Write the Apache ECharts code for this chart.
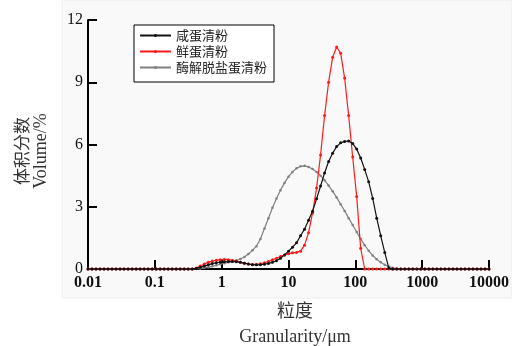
<!DOCTYPE html>
<html><head><meta charset="utf-8">
<script src="https://cdn.jsdelivr.net/npm/echarts@6/dist/echarts.min.js"></script>
<style>html,body{margin:0;padding:0;background:#fff}#c{width:512px;height:346px}</style>
</head><body><div id="c"></div><script>
// particle size classes (µm), log-spaced
const sizeClasses = [
0.01,0.01148,0.01318,0.01514,0.01738,0.01995,0.02291,0.0263,0.0302,0.03467,
0.03981,0.04571,0.05248,0.06026,0.06918,0.07943,0.0912,0.1047,0.1202,0.138,
0.1585,0.182,0.2089,0.2399,0.2754,0.3162,0.3631,0.4169,0.4786,0.5495,
0.631,0.7244,0.8318,0.955,1.096,1.259,1.445,1.66,1.905,2.188,
2.512,2.884,3.311,3.802,4.365,5.012,5.754,6.607,7.586,8.71,
10,11.48,13.18,15.14,17.38,19.95,22.91,26.3,30.2,34.67,
39.81,45.71,52.48,60.26,69.18,79.43,91.2,104.7,120.2,138,
158.5,182,208.9,239.9,275.4,316.2,363.1,416.9,478.6,549.5,
631,724.4,831.8,955,1096,1259,1445,1660,1905,2188,
2512,2884,3311,3802,4365,5012,5754,6607,7586,8710,
10000];
const seriesNames = ['咸蛋清粉','鲜蛋清粉','酶解脱盐蛋清粉'];
const saltedEgg = [
0,0,0,0,0,0,0,0,0,0,
0,0,0,0,0,0,0,0,0,0,
0,0,0,0,0,0,0,0.03,0.08,0.14,
0.2,0.26,0.3,0.33,0.35,0.36,0.36,0.35,0.32,0.28,
0.24,0.21,0.2,0.21,0.23,0.27,0.32,0.4,0.52,0.68,
0.86,1.05,1.26,1.6,1.92,2.35,2.78,3.38,4.0,4.63,
5.18,5.58,5.9,6.08,6.15,6.17,6.05,5.78,5.35,4.8,
4.2,3.4,2.45,1.6,0.8,0.05,0,0,0,0,
0,0,0,0,0,0,0,0,0,0,
0,0,0,0,0,0,0,0,0,0,
0];
const freshEgg = [
0,0,0,0,0,0,0,0,0,0,
0,0,0,0,0,0,0,0,0,0,
0,0,0,0,0,0,0,0.05,0.14,0.24,
0.32,0.38,0.42,0.45,0.46,0.45,0.42,0.38,0.33,0.28,
0.24,0.22,0.22,0.25,0.3,0.36,0.44,0.52,0.6,0.68,
0.74,0.78,0.8,0.86,1.15,1.75,2.7,3.9,5.5,7.4,
9.0,10.2,10.7,10.4,9.2,7.4,5.4,3.5,1.0,0,
0,0,0,0,0,0,0,0,0,0,
0,0,0,0,0,0,0,0,0,0,
0,0,0,0,0,0,0,0,0,0,
0];
const enzymeEgg = [
0,0,0,0,0,0,0,0,0,0,
0,0,0,0,0,0,0,0,0,0,
0,0,0,0,0,0,0,0,0.02,0.05,
0.09,0.13,0.18,0.23,0.28,0.32,0.36,0.41,0.48,0.58,
0.72,0.9,1.1,1.45,1.95,2.45,2.95,3.4,3.8,4.15,
4.45,4.68,4.85,4.95,4.97,4.92,4.82,4.68,4.5,4.28,
4.02,3.75,3.45,3.12,2.8,2.45,2.12,1.78,1.45,1.15,
0.88,0.65,0.47,0.32,0.2,0.12,0.06,0.02,0,0,
0,0,0,0,0,0,0,0,0,0,
0,0,0,0,0,0,0,0,0,0,
0];
const xTickLabels = ['0.01','0.1','1','10','100','1000','10000'];
const yTicks = [0,3,6,9,12];

const pairs = arr => sizeClasses.map((x,i)=>[x,arr[i]]);
const chart = echarts.init(document.getElementById('c'));
const mk = (name, data, color, sym, z) => ({
  name, type:'line', data: pairs(data), symbol:'circle', symbolSize: sym,
  lineStyle:{color, width:1.2}, itemStyle:{color}, z, animation:false
});
chart.setOption({
  backgroundColor:'#fff',
  animation:false,
  graphic:[
    {type:'rect', z:-10, silent:true, shape:{x:62,y:0,width:450,height:298}, style:{fill:'#f9f9f9', stroke:'#ececec', lineWidth:1}},
    {type:'text', x:295, y:310, style:{text:'粒度', font:"18px 'Noto Sans CJK SC'", fill:'#333', textAlign:'center', textVerticalAlign:'middle'}},
    {type:'text', x:295, y:337, style:{text:'Granularity/μm', font:"18px 'Liberation Serif'", fill:'#333', textAlign:'center', textVerticalAlign:'middle'}},
    {type:'text', x:22, y:151, rotation:Math.PI/2, style:{text:'体积分数', font:"17px 'Noto Sans CJK SC'", fill:'#333', textAlign:'center', textVerticalAlign:'middle'}},
    {type:'text', x:41, y:151, rotation:Math.PI/2, style:{text:'Volume/%', font:"18px 'Liberation Serif'", fill:'#333', textAlign:'center', textVerticalAlign:'middle'}}
  ],
  legend:{
    left:134, top:25, orient:'vertical', borderColor:'#000', borderWidth:1,
    padding:[4,7,8,5], itemWidth:31, itemHeight:4, itemGap:3, backgroundColor:'#fff',
    textStyle:{fontFamily:'Noto Sans CJK SC', fontSize:13, color:'#222', lineHeight:13},
    data: seriesNames
  },
  grid:{left:88, top:20, width:402, height:249, containLabel:false},
  xAxis:{
    type:'log', logBase:10, min:0.01, max:10000, splitNumber:6,
    axisLine:{lineStyle:{color:'#000', width:2}},
    axisTick:{inside:true, length:9, lineStyle:{color:'#000', width:2}},
    splitLine:{show:false},
    axisLabel:{color:'#111', fontFamily:'Liberation Serif', fontWeight:'bold', fontSize:16, margin:6,
      formatter: v => xTickLabels[Math.round(Math.log10(v))+2]}
  },
  yAxis:{
    type:'value', min:yTicks[0], max:yTicks[yTicks.length-1], interval:3,
    axisLine:{show:true, lineStyle:{color:'#000', width:2}},
    axisTick:{show:true, inside:true, length:9, lineStyle:{color:'#000', width:2}},
    splitLine:{show:false},
    axisLabel:{color:'#111', fontFamily:'Liberation Serif', fontSize:16, margin:5}
  },
  series:[
    mk(seriesNames[2], enzymeEgg, '#808080', 2.5, 2),
    mk(seriesNames[1], freshEgg, '#ff1a1a', 3, 3),
    mk(seriesNames[0], saltedEgg, '#111111', 3, 4)
  ]
});
</script></body></html>
